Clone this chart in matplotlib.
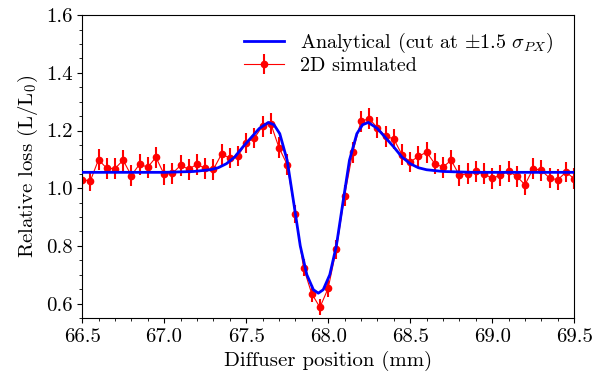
import matplotlib
matplotlib.use('Agg')
import matplotlib.pyplot as plt
from matplotlib.ticker import MultipleLocator, FormatStrFormatter

plt.rcParams['font.family'] = 'serif'
plt.rcParams['font.serif'] = ['cmr10', 'DejaVu Serif']
plt.rcParams['mathtext.fontset'] = 'cm'
plt.rcParams['axes.unicode_minus'] = False

# simulated points, 66.5 -> 69.5 mm in 0.05 mm steps
sim_x = [66.5 + 0.05 * i for i in range(61)]
sim_y = [1.030, 1.025, 1.099, 1.069, 1.068, 1.097, 1.044, 1.083, 1.073, 1.107,
         1.048, 1.051, 1.079, 1.066, 1.083, 1.069, 1.065, 1.118, 1.105, 1.112,
         1.157, 1.174, 1.215, 1.224, 1.141, 1.082, 0.911, 0.724, 0.634, 0.587,
         0.653, 0.788, 0.974, 1.125, 1.232, 1.241, 1.210, 1.180, 1.171, 1.116,
         1.091, 1.110, 1.125, 1.085, 1.073, 1.097, 1.045, 1.050, 1.059, 1.050,
         1.034, 1.045, 1.059, 1.041, 1.012, 1.068, 1.062, 1.035, 1.029, 1.056,
         1.033]
sim_err = [0.036] * 26 + [0.032, 0.030, 0.030, 0.028, 0.030, 0.032] + [0.036] * 29

# analytical curve
ana_x = [66.5, 67.0, 67.18, 67.28, 67.33, 67.38, 67.43, 67.48, 67.53, 67.58,
         67.635, 67.67, 67.705, 67.75, 67.79, 67.83, 67.87, 67.91, 67.94, 67.97,
         68.01, 68.05, 68.09, 68.13, 68.175, 68.21, 68.245, 68.30, 68.35, 68.40,
         68.45, 68.50, 68.55, 68.60, 68.70, 68.88, 69.5]
ana_y = [1.055, 1.055, 1.058, 1.064, 1.071, 1.085, 1.108, 1.143, 1.175, 1.207,
         1.228, 1.220, 1.189, 1.097, 0.950, 0.800, 0.700, 0.648, 0.636, 0.648,
         0.700, 0.800, 0.950, 1.097, 1.189, 1.220, 1.228, 1.207, 1.175, 1.143,
         1.108, 1.085, 1.071, 1.064, 1.058, 1.055, 1.055]

fig, ax = plt.subplots(figsize=(5.95, 3.79), dpi=100)
fig.subplots_adjust(left=0.138, right=0.965, top=0.960, bottom=0.161)

ax.plot(ana_x, ana_y, color='blue', lw=2, label=r'Analytical (cut at $\pm1.5\ \sigma_{PX}$)', zorder=3)
ax.errorbar(sim_x, sim_y, yerr=sim_err, color='red', marker='o', ms=4.5, lw=0.8,
            elinewidth=1.5, capsize=0, label='2D simulated', zorder=2)

ax.set_xlim(66.5, 69.5)
ax.set_ylim(0.55, 1.6)
ax.xaxis.set_major_locator(MultipleLocator(0.5))
ax.xaxis.set_minor_locator(MultipleLocator(0.1))
ax.yaxis.set_major_locator(MultipleLocator(0.2))
ax.yaxis.set_minor_locator(MultipleLocator(0.05))
ax.xaxis.set_major_formatter(FormatStrFormatter('%.1f'))
ax.yaxis.set_major_formatter(FormatStrFormatter('%.1f'))
ax.tick_params(labelsize=15)

ax.set_xlabel('Diffuser position (mm)', fontsize=15)
ax.set_ylabel(r'Relative loss (L/L$_0$)', fontsize=15)
ax.legend(loc='upper right', bbox_to_anchor=(0.994, 1.007), frameon=False,
          fontsize=14.5, handlelength=2.0, labelspacing=0.1)

fig.savefig('out.png', dpi=100)
